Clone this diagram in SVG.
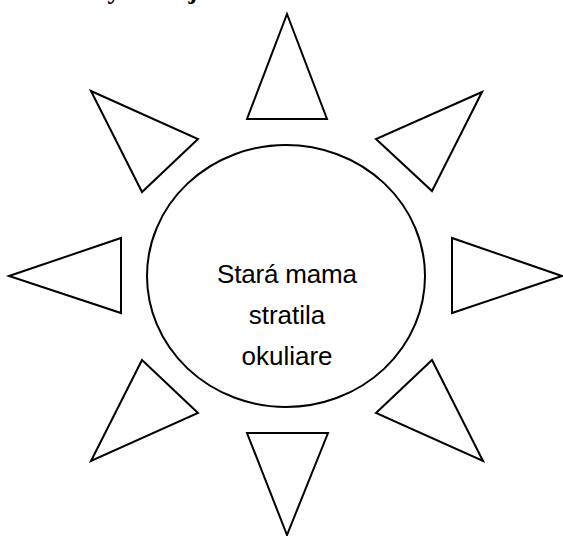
<svg xmlns="http://www.w3.org/2000/svg" width="563" height="536" viewBox="0 0 563 536">
<style>
.ray{fill:#fff;stroke:#000;stroke-width:2;stroke-linejoin:miter}
.sun{fill:#fff;stroke:#000;stroke-width:2}
.lbl{font-family:"Liberation Sans","Open Sans",sans-serif;font-size:26px;fill:#000;text-anchor:middle}
.head{font-family:"Liberation Serif",serif;font-weight:bold;font-size:26px;fill:#000}
</style>
<rect width="563" height="536" fill="#fff"/>
<text class="head" x="54" y="-1">Úlohy na koj</text>
<g id="ray-top"><polygon class="ray" points="287,14 247,119 327,119"/></g>
<g id="ray-top-right"><polygon class="ray" points="482,92 376,139 432,191"/></g>
<g id="ray-right"><polygon class="ray" points="452,238 452,313 562,276"/></g>
<g id="ray-bottom-right"><polygon class="ray" points="432,360 376,413 483,461"/></g>
<g id="ray-bottom"><polygon class="ray" points="247,433 328,433 287,535"/></g>
<g id="ray-bottom-left"><polygon class="ray" points="142,360 198,413 91,461"/></g>
<g id="ray-left"><polygon class="ray" points="9,276 121,238 121,313"/></g>
<g id="ray-top-left"><polygon class="ray" points="91,91 198,139 142,192"/></g>
<g id="center">
<ellipse class="sun" cx="286" cy="276" rx="139" ry="131"/>
<text class="lbl" x="287" y="283" textLength="140">Stará mama</text>
<text class="lbl" x="287" y="324">stratila</text>
<text class="lbl" x="287" y="365">okuliare</text>
</g>
<g id="connectors"/>
</svg>
